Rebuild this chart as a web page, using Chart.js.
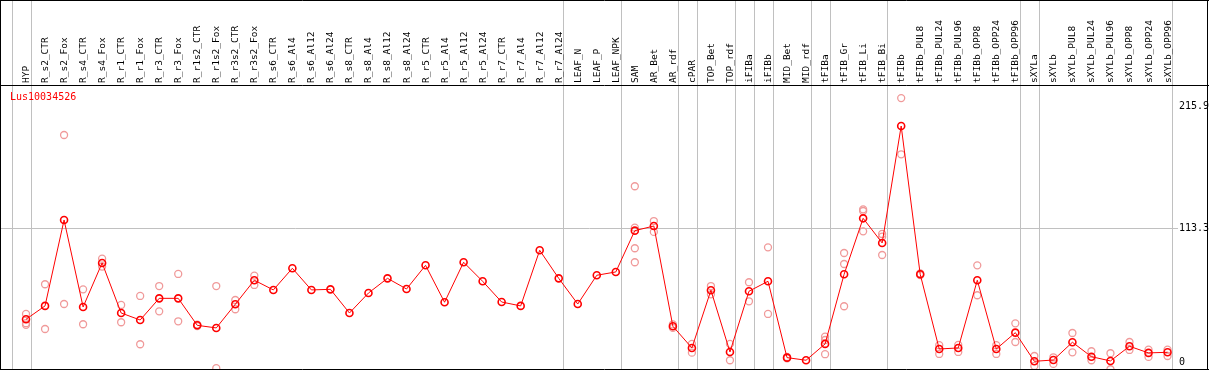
<!DOCTYPE html>
<html>
<head>
<meta charset="utf-8">
<script src="https://cdn.jsdelivr.net/npm/chart.js@4.4.1/dist/chart.umd.min.js"></script>
<style>
  html, body { margin: 0; padding: 0; background: #fff; }
  #wrap { width: 1209px; height: 370px; position: relative; }
</style>
</head>
<body>
<div id="wrap"><canvas id="chart"></canvas></div>
<script>
const geneName = 'Lus10034526';

const categories = ['HYP', 'R_s2_CTR', 'R_s2_Fox', 'R_s4_CTR', 'R_s4_Fox', 'R_r1_CTR', 'R_r1_Fox',
  'R_r3_CTR', 'R_r3_Fox', 'R_r1s2_CTR', 'R_r1s2_Fox', 'R_r3s2_CTR', 'R_r3s2_Fox', 'R_s6_CTR',
  'R_s6_Al4', 'R_s6_Al12', 'R_s6_Al24', 'R_s8_CTR', 'R_s8_Al4', 'R_s8_Al12', 'R_s8_Al24',
  'R_r5_CTR', 'R_r5_Al4', 'R_r5_Al12', 'R_r5_Al24', 'R_r7_CTR', 'R_r7_Al4', 'R_r7_Al12', 'R_r7_Al24',
  'LEAF_N', 'LEAF_P', 'LEAF_NPK', 'SAM', 'AR_Bet', 'AR_rdf', 'cPAR', 'TOP_Bet', 'TOP_rdf',
  'iFIBa', 'iFIBb', 'MID_Bet', 'MID_rdf', 'tFIBa', 'tFIB_Gr', 'tFIB_Li', 'tFIB_Bi', 'tFIBb',
  'tFIBb_PUL8', 'tFIBb_PUL24', 'tFIBb_PUL96', 'tFIBb_OPP8', 'tFIBb_OPP24', 'tFIBb_OPP96',
  'sXYLa', 'sXYLb', 'sXYLb_PUL8', 'sXYLb_PUL24', 'sXYLb_PUL96', 'sXYLb_OPP8', 'sXYLb_OPP24', 'sXYLb_OPP96'];

const meanValues = [36.3, 47.6, 120.2, 46.7, 83.9, 41.6, 35.7, 54, 54, 31.2, 29, 49, 69.3, 61.1,
  79.4, 61.1, 61.6, 41.6, 58.5, 70.9, 61.9, 81.9, 50.7, 84.5, 68.4, 50.9, 47.6, 94.6, 70.9,
  49.2, 73.5, 76.3, 111.2, 115.1, 30.4, 12.1, 60.8, 8.7, 60, 68.4, 3.9, 1.7, 15.5, 74.3, 121.6,
  100.8, 199.6, 74.3, 11.2, 12.1, 69.3, 11.2, 25, 0.8, 1.9, 16.9, 4.7, 1.1, 13.5, 7.9, 8.4];

const rep1 = [40.8, 65.9, 192, 61.6, 87.5, 48.4, 56, 64.4, 74.6, 31.8, 64.4, 52.6, 73.2, null,
  null, null, null, null, null, null, null, null, null, null, null, null, null, null, null,
  null, null, null, 148.7, 119.3, 32, 15.5, 64.4, 15.5, 67.6, 97.1, 4.5, null, 21.6, 92.3, 129.2,
  108.4, 223.2, 75, 14.4, 14.6, 81.9, 14.4, 32.9, 5.3, 4.2, 24.7, 9.3, 7.6, 17.1, 10.6, 10.6];

const rep2 = [33, 28.1, 49.2, 32.1, 80.8, 33.8, 15.2, 43, 34.6, 30.6, -5, 44.8, 65.3, null,
  null, null, null, null, null, null, null, null, null, null, null, null, null, null, null,
  null, null, null, 113.7, 110.1, 29, 8.1, 57.4, 1.7, 51.5, 40.8, 3.3, null, 18.8, 83, 127.8,
  106.1, 175.7, 73.6, 7, 8.7, 56.6, 7, 17.1, -3.1, -1.4, 8.4, 1.7, -5.9, 10.4, 4.5, 5.3];

const rep3 = [31.6, null, null, null, null, null, null, null, null, null, null, null, null, null,
  null, null, null, null, null, null, null, null, null, null, null, null, null, null, null,
  null, null, null, 96.3, null, null, null, null, null, null, null, null, null, 6.8, 47.3, 110.6,
  90.6, null, null, null, null, null, null, null, null, null, null, null, null, null, null, null];

const rep4 = [null, null, null, null, null, null, null, null, null, null, null, null, null, null,
  null, null, null, null, null, null, null, null, null, null, null, null, null, null, null,
  null, null, null, 84.5, null, null, null, null, null, null, null, null, null, null, null, null,
  null, null, null, null, null, null, null, null, null, null, null, null, null, null, null, null];

const yTicks = [0, 113.3, 215.9];
// group separators sit just right of these category indices
const groupEnds = [-1, 0, 28, 31, 34, 35, 37, 38, 39, 41, 42, 45, 52, 53, 60];

const monoFont = '"DejaVu Sans Mono", "Liberation Mono", monospace';

function toPoints(values) {
    return values.map((v, i) => ({ x: i, y: v })).filter(p => p.y !== null);
}

function noPadding(scale) {
    scale.paddingLeft = 0;
    scale.paddingRight = 0;
    scale.paddingTop = 0;
    scale.paddingBottom = 0;
}

const repDatasets = [rep1, rep2, rep3, rep4].map((rep, k) => ({
    type: 'scatter',
    label: 'rep' + (k + 1),
    data: toPoints(rep),
    showLine: false,
    pointRadius: 3.5,
    pointBorderWidth: 1.3,
    pointBorderColor: '#f09a9a',
    pointBackgroundColor: 'rgba(0,0,0,0)'
}));

const framePlugin = {
    id: 'frame',
    beforeDatasetsDraw(chart) {
        const ctx = chart.ctx;
        const x = chart.scales.x;
        const area = chart.chartArea;
        ctx.save();
        ctx.strokeStyle = '#c0c0c0';
        ctx.lineWidth = 1;
        groupEnds.forEach(k => {
            const px = Math.round(x.getPixelForValue(k + 0.25)) + 0.5;
            ctx.beginPath();
            ctx.moveTo(px, 0);
            ctx.lineTo(px, area.bottom);
            ctx.stroke();
        });
        ctx.restore();
    },
    afterDraw(chart) {
        const ctx = chart.ctx;
        const x = chart.scales.x;
        const area = chart.chartArea;
        const w = chart.width;
        ctx.save();
        // header labels
        ctx.fillStyle = '#000';
        ctx.font = '9.5px ' + monoFont;
        ctx.textAlign = 'left';
        ctx.textBaseline = 'middle';
        categories.forEach((c, i) => {
            ctx.save();
            ctx.translate(Math.round(x.getPixelForValue(i)) + 0.5, area.top - 3);
            ctx.rotate(-Math.PI / 2);
            ctx.fillText(c, 0, 0);
            ctx.restore();
        });
        // gene name
        ctx.fillStyle = '#ff0000';
        ctx.font = '10px ' + monoFont;
        ctx.fillText(geneName, 10, area.top + 11);
        // frame
        ctx.strokeStyle = '#000';
        ctx.lineWidth = 1;
        ctx.beginPath();
        ctx.moveTo(0, 0.5); ctx.lineTo(w, 0.5);
        ctx.moveTo(0, area.top - 0.5); ctx.lineTo(w, area.top - 0.5);
        ctx.moveTo(0, area.bottom + 0.5); ctx.lineTo(w, area.bottom + 0.5);
        ctx.moveTo(0.5, 0); ctx.lineTo(0.5, area.bottom + 1);
        ctx.moveTo(w - 1.5, 0); ctx.lineTo(w - 1.5, area.bottom + 1);
        ctx.stroke();
        ctx.restore();
    }
};

new Chart(document.getElementById('chart'), {
    type: 'line',
    data: {
        datasets: [{
            label: geneName,
            data: toPoints(meanValues),
            borderColor: '#ff0000',
            borderWidth: 1,
            pointRadius: 3.5,
            pointBorderWidth: 1.6,
            pointBorderColor: '#ff0000',
            pointBackgroundColor: 'rgba(0,0,0,0)',
            tension: 0
        }, ...repDatasets]
    },
    options: {
        responsive: true,
        maintainAspectRatio: false,
        animation: false,
        devicePixelRatio: 1,
        layout: { autoPadding: false, padding: { left: 1, right: 0, top: 0, bottom: 1 } },
        plugins: {
            legend: { display: false },
            tooltip: { enabled: false }
        },
        scales: {
            x: {
                type: 'linear',
                position: 'top',
                min: -1.315,
                max: 60.55,
                afterFit(scale) { scale.height = 86; noPadding(scale); },
                afterBuildTicks(scale) {
                    scale.ticks = categories.map((c, i) => ({ value: i }));
                },
                ticks: { display: false },
                grid: { display: false },
                border: { display: false }
            },
            y: {
                position: 'right',
                min: -5.7,
                max: 233.4,
                afterFit(scale) { scale.width = 31; noPadding(scale); },
                afterBuildTicks(scale) {
                    scale.ticks = yTicks.map(v => ({ value: v }));
                },
                ticks: {
                    color: '#000',
                    padding: 1,
                    font: { family: monoFont, size: 10 },
                    callback: v => String(v)
                },
                grid: {
                    drawTicks: false,
                    color: ctx => (ctx.tick && ctx.tick.value === 113.3) ? '#c0c0c0' : 'rgba(0,0,0,0)'
                },
                border: { display: false }
            }
        }
    },
    plugins: [framePlugin]
});
</script>
</body>
</html>
